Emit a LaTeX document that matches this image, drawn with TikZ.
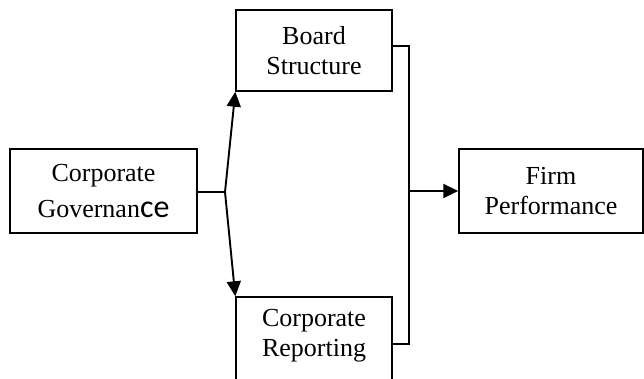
\documentclass[tikz,border=0pt]{standalone}
\usepackage{fontspec}
\setmainfont{Liberation Serif}
\newfontfamily\cefont{Carlito}
\usetikzlibrary{arrows.meta}
\begin{document}
\begin{tikzpicture}[x=1pt,y=-1pt,
  box/.style={draw,line width=1.4pt,align=center,inner sep=0pt,
    font=\fontsize{26}{30}\selectfont},
  link/.style={line width=1.9pt},
  arr/.style={link,-{Triangle[length=15pt,width=14pt]}}]
\useasboundingbox (0,0) rectangle (644,378);
% boxes
\node[box,minimum width=187pt,minimum height=84pt] (gov) at (103.5,191)
  {Corporate\\[6pt]Governan{\cefont\fontsize{32}{30}\selectfont ce}};
\node[box,minimum width=156pt,minimum height=81pt] (board) at (314,50.5)
  {Board\\Structure};
\node[box,minimum width=156pt,minimum height=92pt] (rep) at (314,343) {};
\node[font=\fontsize{26}{30}\selectfont,align=center,inner sep=0pt] (reptext) at (314,336)
  {Corporate\\Reporting};
\node[box,minimum width=184pt,minimum height=84pt] (firm) at (551,191)
  {Firm\\Performance};
% split from governance to the two dimensions
\coordinate (split) at (225,192);
\draw[link] (gov.east |- split) -- (split);
\draw[arr] (split) -- (board.south west);
\draw[arr] (split) -- (rep.north west);
% bracket joining the dimensions to performance
\coordinate (bt) at (409,46);
\coordinate (bb) at (409,344);
\coordinate (join) at (409,191);
\draw[link] (board.east |- bt) -- (bt) -- (bb) -- (rep.east |- bb);
\draw[arr] (join) -- (firm.west);
\end{tikzpicture}
\end{document}
